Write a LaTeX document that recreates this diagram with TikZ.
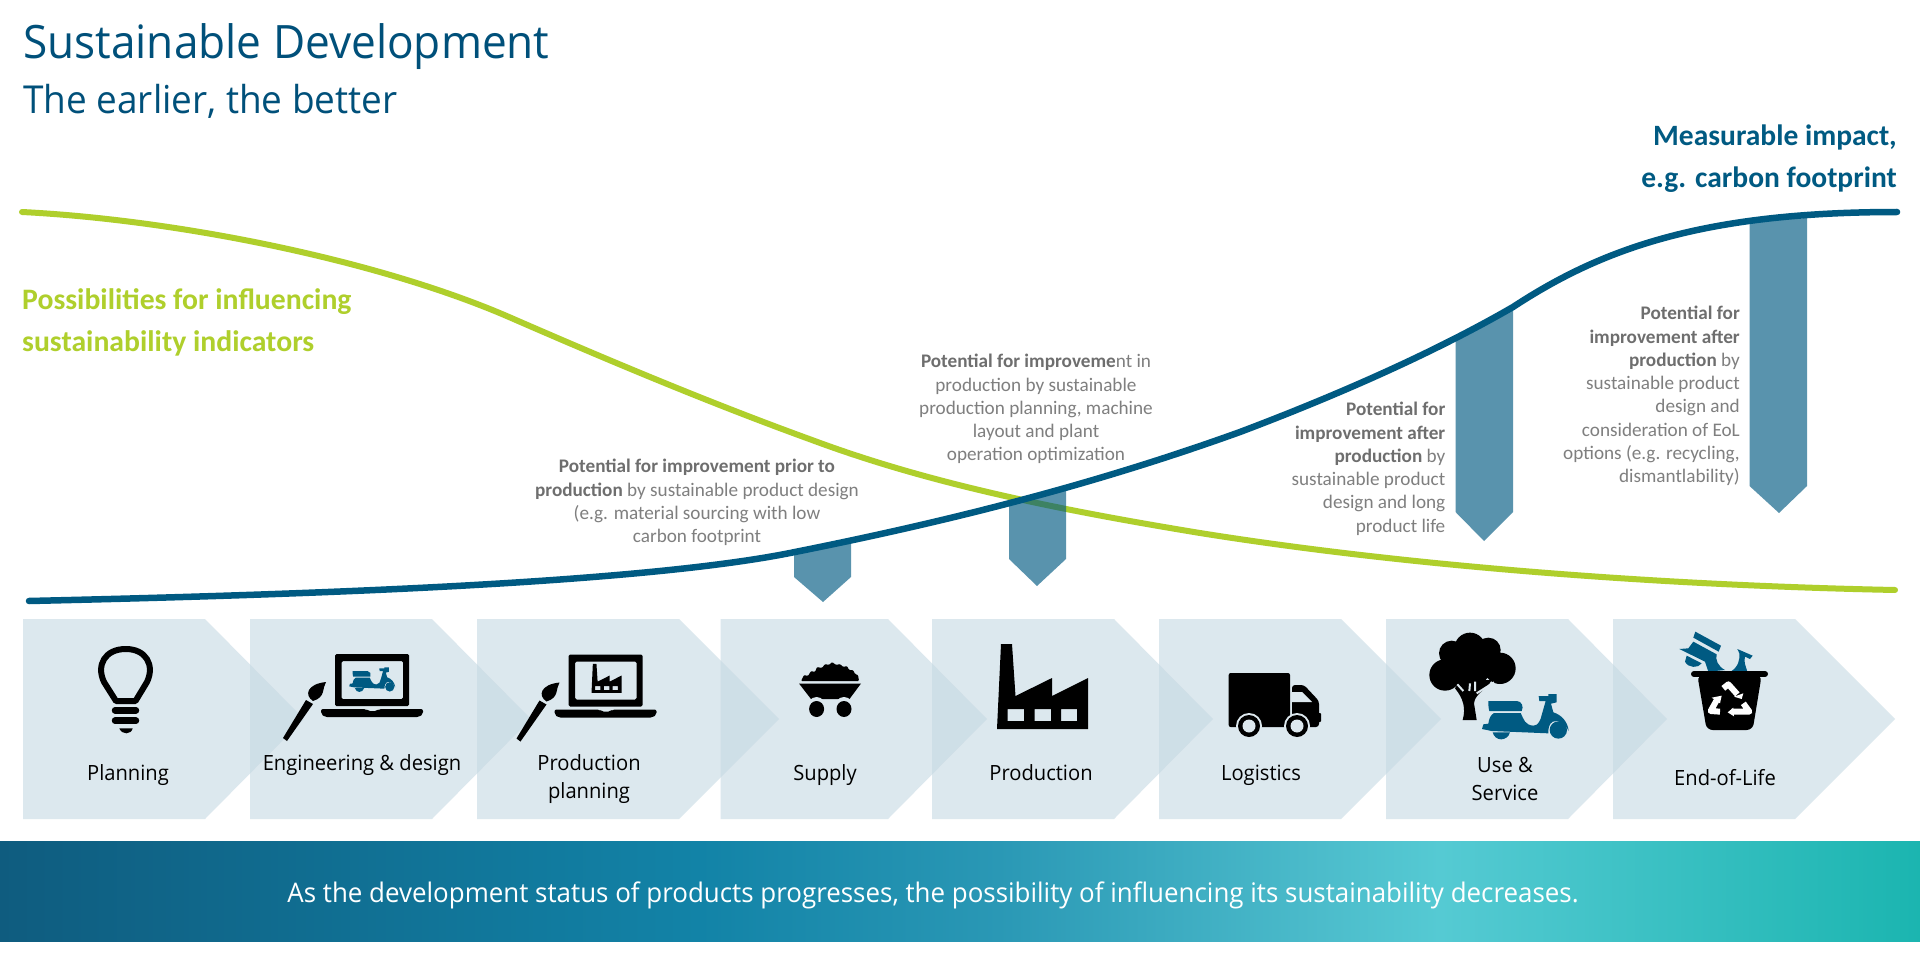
\documentclass[tikz,border=0pt]{standalone}
\usepackage{fontspec}
\setmainfont{Carlito}
\newfontfamily\seg[FakeStretch=0.96]{Open Sans}
\usetikzlibrary{calc}
\definecolor{dkblue}{HTML}{005A82}
\definecolor{ttblue}{HTML}{00507A}
\definecolor{grn}{HTML}{AFCF2C}
\definecolor{chevc}{HTML}{C6D9E3}
\definecolor{bgc}{HTML}{DDE8EE}
\definecolor{gtxt}{HTML}{7F7F7F}
\definecolor{gbold}{HTML}{6E6E6E}
\definecolor{b0}{HTML}{0F5C7F}
\definecolor{b1}{HTML}{1283A7}
\definecolor{b2}{HTML}{2A98B5}
\definecolor{b3}{HTML}{4CBCCB}
\definecolor{b4}{HTML}{55CAD3}
\definecolor{b5}{HTML}{1BB5B0}
\pgfdeclarehorizontalshading{bann}{100bp}{color(0bp)=(b0);color(25bp)=(b0);color(43.2bp)=(b1);color(51bp)=(b2);color(59.4bp)=(b3);color(62.5bp)=(b4);color(75bp)=(b5);color(100bp)=(b5)}
\tikzset{
  x=1pt,y=-1pt,
  chev/.style={fill=chevc,fill opacity=.6},
  potarrow/.style={fill=dkblue,fill opacity=.65},
  steplabel/.style={font=\seg\fontsize{21}{28}\selectfont,anchor=base,align=center,inner sep=0pt,text=black},
  potnote/.style={font=\fontsize{19.2}{23.3}\selectfont,anchor=north,inner sep=0pt,text=gtxt},
  scooter/.pic={
    \fill[dkblue] (205,228) -- (290,228) .. controls (305,228) and (312,245) .. (305,258) -- (208,258) .. controls (205,250) and (205,235) .. cycle;
    \fill[dkblue] (222,264) -- (302,264) .. controls (312,285) and (315,300) .. (340,302) .. controls (355,302) and (362,285) .. (365,270) -- (377,228) -- (358,228) -- (356,213) -- (385,213) -- (385,207) -- (410,207) -- (410,232) -- (393,236) -- (400,262) .. controls (425,270) and (443,290) .. (446,318) .. controls (435,295) and (415,283) .. (398,290) .. controls (388,296) and (384,310) .. (385,325) -- (215,318) -- (186,312) -- (190,298) -- (205,296) .. controls (207,280) and (212,270) .. cycle;
    \fill[dkblue] (415,315) circle[radius=26];
    \fill[dkblue] (218,322) .. controls (225,350) and (262,350) .. (270,322) -- cycle;
  },
  factoryicon/.pic={
    \fill[black,even odd rule] (997,729) -- (1001,644) -- (1012,644) -- (1015.5,696) -- (1052,678) -- (1052,696) -- (1088,678) -- (1088,729) -- cycle
      (1007.6,709) rectangle (1024,721) (1034.5,709) rectangle (1051,721) (1061,709) rectangle (1077,721);
  },
  laptopicon/.pic={
    \fill[black,even odd rule,rounded corners=1.5] (335,654) rectangle (409,706) (341.5,661) rectangle (403,699);
    \fill[black,rounded corners=2] (321,709) -- (366,709) -- (368,711) -- (377,711) -- (379,709) -- (423,709) -- (423,714) -- (419,717) -- (325,717) -- (321,714) -- cycle;
    \fill[black,line join=round] (283,738) -- (287,741) -- (313,704) -- (306,700) -- cycle;
    \fill[black] (313,701) .. controls (304,695) and (307,684) .. (326,682) .. controls (322,688) and (326,697) .. (313,701) -- cycle;
  }
}
\begin{document}
\begin{tikzpicture}
\useasboundingbox (0,0) rectangle (1920,960);
\fill[white] (0,0) rectangle (1920,960);

% chevrons
\foreach \l/\s/\t in {23/205/304, 250/432/531, 477/679/779, 720.5/888/987, 932/1114/1213, 1159/1341/1441, 1386/1568/1667, 1613/1795/1895}{
  \fill[chev] (\l,619) -- (\s,619) -- (\t,719) -- (\s,819) -- (\l,819) -- cycle;
}

% banner
\shade[shading=bann] (0,841) rectangle (1920,941);
\node[font=\seg\fontsize{27}{32}\selectfont,text=white,anchor=base,inner sep=0pt] (bannertext) at (933,902) {As the development status of products progresses, the possibility of influencing its sustainability decreases.};

% green curve
\draw[grn,line width=6,line cap=round] (22,212) .. controls (180,220) and (380,261) .. (509,317) .. controls (610,361) and (710,403) .. (812,440) .. controls (930,484) and (1060,510) .. (1200,533) .. controls (1400,565) and (1650,585) .. (1895,590);

% improvement arrows
\fill[potarrow] (794,552) -- (851,543) -- (851,577) -- (823,602) -- (794,577) -- cycle;
\fill[potarrow] (1009,505) -- (1066,490) -- (1066,559) -- (1037,586) -- (1009,559) -- cycle;
\fill[potarrow] (1455.5,338) -- (1513,308) -- (1513,512) -- (1484,541) -- (1455.5,512) -- cycle;
\fill[potarrow] (1749.5,222) -- (1807,218) -- (1807,486) -- (1779,513) -- (1749.5,486) -- cycle;

% blue curve
\draw[dkblue,line width=6.5,line cap=round] (29,601) .. controls (290,595) and (640,584) .. (795,552) .. controls (945,522) and (1090,486) .. (1240,432) .. controls (1330,398) and (1430,355) .. (1513,307) .. controls (1600,250) and (1700,212) .. (1897,212);

% titles
\node[font=\seg\fontsize{46}{50}\selectfont,text=ttblue,anchor=base west,inner sep=0pt] (title) at (23,59) {Sustainable Development};
\node[font=\seg\fontsize{38.5}{42}\selectfont,text=ttblue,anchor=base west,inner sep=0pt] (subtitle) at (23,114) {The earlier, the better};
\node[font=\bfseries\fontsize{29.7}{42.7}\selectfont,text=grn,anchor=north west,align=left,inner sep=0pt] (possib) at (22,288) {Possibilities for influencing\\sustainability indicators};
\node[font=\bfseries\fontsize{29.5}{42}\selectfont,text=dkblue,anchor=north east,align=right,inner sep=0pt] (impact) at (1897,125) {Measurable impact,\\e.g. carbon footprint};

% notes
\node[potnote,align=center] (n1) at (697,459) {\textbf{\textcolor{gbold}{Potential for improvement prior to}}\\\textbf{\textcolor{gbold}{production}} by sustainable product design\\(e.g. material sourcing with low\\carbon footprint};
\node[potnote,align=center] (n2) at (1036,354) {\textbf{\textcolor{gbold}{Potential for improveme}}nt in\\production by sustainable\\production planning, machine\\layout and plant\\operation optimization};
\node[potnote,align=right,anchor=north east] (n3) at (1445.5,402) {\textbf{\textcolor{gbold}{Potential for}}\\\textbf{\textcolor{gbold}{improvement after}}\\\textbf{\textcolor{gbold}{production}} by\\sustainable product\\design and long\\product life};
\node[potnote,align=right,anchor=north east] (n4) at (1740,306) {\textbf{\textcolor{gbold}{Potential for}}\\\textbf{\textcolor{gbold}{improvement after}}\\\textbf{\textcolor{gbold}{production}} by\\sustainable product\\design and\\consideration of EoL\\options (e.g. recycling,\\dismantlability)};

% step labels
\node[steplabel] (s1) at (128,780) {Planning};
\node[steplabel] (s2) at (362,770) {Engineering \& design};
\node[steplabel] (s3a) at (589,770) {Production};
\node[steplabel] (s3b) at (589,798) {planning};
\node[steplabel] (s4) at (825,780) {Supply};
\node[steplabel] (s5) at (1041,780) {Production};
\node[steplabel] (s6) at (1261,780) {Logistics};
\node[steplabel] (s7a) at (1505,772) {Use \&};
\node[steplabel] (s7b) at (1505,800) {Service};
\node[steplabel] (s8) at (1725,785) {End-of-Life};

% bulb
\draw[black,line width=6,line join=round] (116,701) -- (104,682) .. controls (96,665) and (105,649) .. (125.8,649) .. controls (146,649) and (155,665) .. (147,682) -- (135.5,701) -- cycle;
\draw[black,line width=6.5,line cap=round] (115,710.3) -- (136,710.3) (115,720.7) -- (136,720.7);
\fill[black] (119.3,728.3) -- (132.7,728.3) .. controls (131,735) and (122,735) .. cycle;

% laptops
\pic at (0,0) {laptopicon};
\pic at (233.5,.5) {laptopicon};
\pic[scale=.177,yscale=1.02] at (316.3,630) {scooter};
\pic[xscale=.33,yscale=.34] at (262.5,445) {factoryicon};

% coal cart
\fill[black,rounded corners=1] (801,681) -- (804,675) -- (808,676) -- (811,671) -- (815,672) -- (817,667) -- (822,668) -- (825,664) -- (829,665) -- (832,662) -- (836,665) -- (840,664) -- (843,667) -- (847,666) -- (849,670) -- (853,670) -- (855,674) -- (858,675) -- (859,681) -- cycle;
\fill[black] (799,683.5) -- (861,683.5) -- (849.5,699) -- (811,699) -- cycle;
\fill[bgc] (816.6,709) circle[x radius=10,y radius=12] (844,709) circle[x radius=10,y radius=12];
\fill[black] (816.6,709) circle[x radius=7.5,y radius=8] (844,709) circle[x radius=7.5,y radius=8];

% factory
\pic at (0,0) {factoryicon};

% truck
\fill[black,rounded corners=2] (1228.7,673) rectangle (1290,727);
\fill[black,rounded corners=3,even odd rule] (1292,685) -- (1304,685) -- (1319,701) -- (1319,727) -- (1292,727) -- cycle;
\fill[bgc] (1291,692) -- (1302,692) -- (1312,702) -- (1291,702) -- cycle;
\fill[bgc] (1249,726) circle[radius=13] (1297,726) circle[radius=13];
\fill[black] (1249,726) circle[radius=11] (1297,726) circle[radius=11];
\fill[bgc] (1249,726) circle[radius=6.5] (1297,726) circle[radius=6.5];
\fill[black,rounded corners=1] (1318,713) rectangle (1321,722);

% tree and scooter
\begin{scope}[shift={(1420,625)},scale=1/3]
  \fill[black] (150,70) circle[radius=47] (95,85) circle[radius=38] (205,75) circle[radius=37] (75,150) circle[radius=47] (240,130) circle[radius=47] (150,120) circle[radius=65];
  \fill[black] (128,285) .. controls (138,250) and (130,220) .. (105,190) -- (120,165) -- (215,165) .. controls (200,195) and (165,205) .. (162,235) -- (170,285) -- cycle;
  \draw[bgc,line width=2] (112,178) -- (130,198) (150,175) -- (148,198) (165,170) -- (165,198) (222,172) -- (170,205);
\end{scope}
\pic[scale=1/3] at (1420,625) {scooter};

% bin
\begin{scope}[shift={(1660,625)},scale=1/3]
  \fill[dkblue] (106,20) -- (183,62) -- (176,80) -- (100,38) -- cycle;
  \fill[dkblue] (100,50) -- (170,88) .. controls (165,105) and (175,125) .. (195,135) -- (145,140) -- (135,110) -- (58,72) -- (85,70) -- cycle;
  \fill[dkblue] (80,92) -- (125,115) .. controls (115,130) and (85,130) .. (75,110) -- cycle;
  \fill[dkblue] (232,72) -- (278,92) -- (270,102) -- (255,95) .. controls (250,110) and (258,125) .. (262,140) -- (212,140) .. controls (235,125) and (240,105) .. (238,85) -- cycle;
  \fill[black,rounded corners=6] (112,150) -- (305,150) -- (278,315) -- (140,315) -- cycle;
  \draw[black,line width=6,line cap=round] (102,147) -- (315,147);
  \draw[white,line width=6,line join=round] (190,190) -- (205,178) -- (232,208);
  \fill[white] (222,215) -- (250,205) -- (245,222) -- cycle;
  \draw[white,line width=6,line join=round] (172,222) -- (152,258) -- (180,260);
  \fill[white] (155,218) -- (185,212) -- (180,235) -- cycle;
  \draw[white,line width=6,line join=round] (250,235) -- (268,260) -- (215,260);
  \fill[white] (220,248) -- (203,262) -- (222,274) -- cycle;
\end{scope}
\end{tikzpicture}
\end{document}
